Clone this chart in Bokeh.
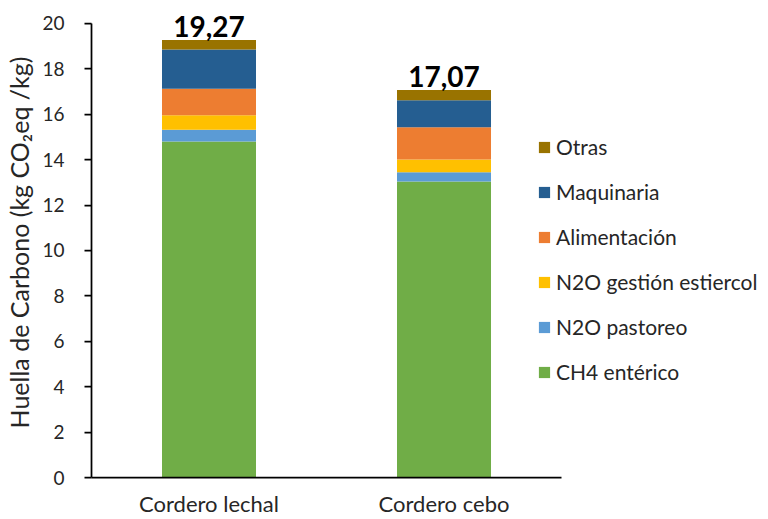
from bokeh.plotting import figure
from bokeh.models import (ColumnDataSource, Legend, LegendItem, LabelSet,
                          FixedTicker, Range1d)
from bokeh.core.properties import value
from bokeh.embed import file_html
from bokeh.resources import INLINE

categories = ["Cordero lechal", "Cordero cebo"]
series = ["CH4 entérico", "N2O pastoreo", "N2O gestión estiercol",
          "Alimentación", "Maquinaria", "Otras"]
ch4_enterico = [14.80, 13.04]
n2o_pastoreo = [0.52, 0.40]
n2o_gestion = [0.63, 0.57]
alimentacion = [1.17, 1.42]
maquinaria = [1.73, 1.18]
otras = [0.42, 0.46]
totals = [19.27, 17.07]
y_ticks = [0, 2, 4, 6, 8, 10, 12, 14, 16, 18, 20]
colors = ["#70AD47", "#5B9BD5", "#FFC000", "#ED7D31", "#255E91", "#997300"]

FONT = "Lato"
TEXT = "#262626"

# category slots: each category occupies one unit on the x scale
xpos = [i + 0.5 for i in range(len(categories))]

keys = ["s0", "s1", "s2", "s3", "s4", "s5"]
data = dict(x=xpos, s0=ch4_enterico, s1=n2o_pastoreo, s2=n2o_gestion,
            s3=alimentacion, s4=maquinaria, s5=otras, total=totals,
            label=[f"{t:.2f}".replace(".", ",") for t in totals])
source = ColumnDataSource(data)

p = figure(width=768, height=519, x_range=Range1d(0, 2.851),
           y_range=Range1d(0, 20.7), output_backend="svg", toolbar_location=None,
           min_border_left=91, min_border_right=7, min_border_top=7,
           min_border_bottom=40)
p.outline_line_color = None
p.xgrid.grid_line_color = None
p.ygrid.grid_line_color = None

renderers = p.vbar_stack(keys, x="x", width=0.4, fill_color=colors,
                         line_color=None, source=source)

labels = LabelSet(x="x", y="total", text="label", source=source,
                  text_align="center", text_baseline="alphabetic", y_offset=3,
                  text_font=value("Lato"), text_font_style="bold",
                  text_font_size=value("28px"), text_color="black")
p.add_layout(labels)

items = [LegendItem(label=series[i], renderers=[renderers[i]]) for i in range(5, -1, -1)]
legend = Legend(items=items, location=(446, 92), orientation="vertical",
                glyph_width=14, glyph_height=14, label_height=27, spacing=18,
                label_standoff=5, padding=0, margin=0, border_line_color=None,
                background_fill_alpha=0, label_text_font=FONT,
                label_text_font_size="21px", label_text_color=TEXT)
p.add_layout(legend)

p.yaxis.ticker = FixedTicker(ticks=y_ticks)
p.yaxis.bounds = (0, 20)
p.yaxis.axis_label = "Huella de Carbono (kg CO\u2082eq /kg)"
p.yaxis.axis_label_text_font = FONT
p.yaxis.axis_label_text_font_size = "25px"
p.yaxis.axis_label_text_font_style = "normal"
p.yaxis.axis_label_text_color = TEXT
p.yaxis.axis_label_standoff = 5
p.yaxis.major_label_text_font = FONT
p.yaxis.major_label_text_font_size = "19px"
p.yaxis.major_label_text_color = TEXT
p.yaxis.major_label_standoff = 20
p.yaxis.major_tick_out = 7
p.yaxis.major_tick_in = 0
p.yaxis.minor_tick_line_color = None
p.yaxis.major_tick_line_width = 1.75
p.yaxis.axis_line_width = 1.75
p.yaxis.axis_line_color = "black"
p.yaxis.major_tick_line_color = "black"

p.xaxis.ticker = FixedTicker(ticks=xpos)
p.xaxis.major_label_overrides = {x: c for x, c in zip(xpos, categories)}
p.xaxis.bounds = (0, len(categories))
p.xaxis.major_tick_line_color = None
p.xaxis.major_tick_out = 0
p.xaxis.major_tick_in = 0
p.xaxis.minor_tick_line_color = None
p.xaxis.axis_line_width = 1.75
p.xaxis.axis_line_color = "black"
p.xaxis.major_label_text_font = FONT
p.xaxis.major_label_text_font_size = "22px"
p.xaxis.major_label_text_color = TEXT
p.xaxis.major_label_standoff = 12

open("out.html", "w").write(file_html(p, INLINE))
